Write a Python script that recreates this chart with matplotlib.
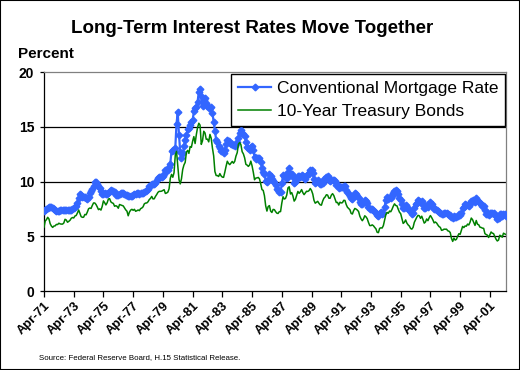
"""Long-term interest rates: conventional mortgage rate vs 10-year Treasury."""

import matplotlib
matplotlib.use("Agg")
import matplotlib.pyplot as plt
from matplotlib.patches import Rectangle

# monthly values, Apr 1971 - May 2002 (one row per calendar year)
mortgage_rate = [
    7.31, 7.43, 7.53, 7.60, 7.70, 7.69, 7.63, 7.55, 7.48,
    7.44, 7.32, 7.29, 7.29, 7.37, 7.37, 7.40, 7.40, 7.42, 7.43, 7.43, 7.44,
    7.44, 7.44, 7.46, 7.54, 7.65, 7.73, 8.05, 8.50, 8.82, 8.77, 8.58, 8.54,
    8.54, 8.46, 8.41, 8.58, 8.97, 9.09, 9.28, 9.59, 9.96, 9.98, 9.79, 9.62,
    9.43, 9.10, 8.89, 8.82, 8.91, 8.89, 8.89, 8.94, 9.13, 9.22, 9.15, 9.10,
    9.02, 8.81, 8.76, 8.73, 8.83, 8.92, 8.93, 8.96, 8.89, 8.80, 8.75, 8.66,
    8.72, 8.67, 8.69, 8.75, 8.83, 8.86, 8.94, 8.94, 8.90, 8.92, 8.92, 8.96,
    9.02, 9.15, 9.20, 9.36, 9.57, 9.71, 9.74, 9.78, 9.76, 9.86, 10.11, 10.35,
    10.39, 10.41, 10.43, 10.50, 10.69, 11.04, 11.09, 11.09, 11.30, 11.64, 12.83, 12.90,
    12.88, 13.04, 15.28, 16.32, 14.26, 12.71, 12.19, 12.56, 13.20, 13.79, 14.21, 14.79,
    14.90, 15.13, 15.40, 15.58, 16.40, 16.70, 16.83, 17.29, 18.16, 18.45, 17.83, 16.92,
    17.40, 17.60, 17.16, 16.89, 16.68, 16.70, 16.82, 16.27, 15.43, 14.61, 13.83, 13.62,
    13.25, 13.04, 12.80, 12.78, 12.63, 12.87, 13.42, 13.81, 13.73, 13.54, 13.44, 13.42,
    13.37, 13.23, 13.39, 13.65, 13.94, 14.42, 14.67, 14.47, 14.35, 14.13, 13.64, 13.18,
    13.08, 12.92, 13.17, 13.20, 12.91, 12.22, 12.03, 12.19, 12.19, 12.14, 11.78, 11.26,
    10.88, 10.71, 10.08, 9.94, 10.14, 10.68, 10.51, 10.20, 10.01, 9.98, 9.70, 9.32,
    9.20, 9.08, 9.04, 9.83, 10.60, 10.54, 10.28, 10.33, 10.89, 11.26, 10.65, 10.64,
    10.38, 9.89, 9.93, 10.20, 10.46, 10.46, 10.43, 10.60, 10.48, 10.30, 10.27, 10.61,
    10.73, 10.65, 11.03, 11.05, 10.77, 10.20, 9.88, 9.99, 10.13, 9.95, 9.77, 9.74,
    9.90, 10.20, 10.27, 10.37, 10.48, 10.16, 10.04, 10.10, 10.18, 10.18, 10.01, 9.67,
    9.64, 9.37, 9.50, 9.49, 9.47, 9.62, 9.58, 9.24, 9.01, 8.86, 8.71, 8.50,
    8.43, 8.76, 8.94, 8.85, 8.67, 8.51, 8.13, 7.98, 7.92, 8.09, 8.31, 8.22,
    8.02, 7.68, 7.50, 7.47, 7.47, 7.42, 7.21, 7.11, 6.92, 6.83, 7.16, 7.17,
    7.06, 7.15, 7.68, 8.32, 8.60, 8.40, 8.61, 8.51, 8.64, 8.93, 9.17, 9.20,
    9.15, 8.83, 8.46, 8.32, 7.96, 7.57, 7.61, 7.86, 7.64, 7.48, 7.38, 7.20,
    7.03, 7.08, 7.62, 7.93, 8.07, 8.32, 8.25, 8.00, 8.23, 7.92, 7.62, 7.60,
    7.82, 7.65, 7.90, 8.14, 7.94, 7.69, 7.50, 7.48, 7.43, 7.29, 7.21, 7.10,
    6.99, 7.04, 7.13, 7.14, 7.14, 7.00, 6.95, 6.92, 6.72, 6.71, 6.87, 6.72,
    6.79, 6.81, 7.04, 6.92, 7.15, 7.55, 7.63, 7.94, 7.82, 7.85, 7.74, 7.91,
    8.21, 8.33, 8.24, 8.15, 8.52, 8.29, 8.15, 8.03, 7.91, 7.80, 7.75, 7.38,
    7.03, 7.05, 6.95, 7.08, 7.15, 7.16, 7.13, 6.95, 6.82, 6.62, 6.66, 7.07,
    7.00, 6.89, 7.01, 6.99, 6.81,
]

treasury_10y = [
    5.83, 6.39, 6.52, 6.73, 6.58, 6.14, 5.93, 5.81, 5.93,
    5.95, 6.08, 6.07, 6.19, 6.13, 6.11, 6.11, 6.21, 6.55, 6.48, 6.28, 6.36,
    6.46, 6.64, 6.71, 6.67, 6.85, 6.90, 7.13, 7.40, 7.09, 6.79, 6.73, 6.74,
    6.99, 6.96, 7.21, 7.51, 7.58, 7.54, 7.81, 8.04, 8.04, 7.90, 7.68, 7.43,
    7.50, 7.39, 7.73, 8.23, 8.06, 7.86, 8.06, 8.40, 8.43, 8.14, 8.05, 8.00,
    7.74, 7.79, 7.73, 7.56, 7.90, 7.86, 7.83, 7.77, 7.59, 7.41, 7.29, 6.87,
    7.21, 7.39, 7.46, 7.37, 7.46, 7.28, 7.33, 7.40, 7.34, 7.52, 7.58, 7.69,
    7.96, 8.03, 8.04, 8.15, 8.35, 8.46, 8.64, 8.41, 8.42, 8.64, 8.81, 9.01,
    9.10, 9.10, 9.12, 9.18, 9.25, 8.91, 8.95, 9.03, 9.33, 10.30, 10.65, 10.39,
    10.80, 12.41, 12.75, 11.47, 10.18, 9.78, 10.25, 11.10, 11.51, 11.75, 12.68, 12.84,
    12.57, 13.19, 13.12, 13.68, 14.10, 13.47, 14.28, 14.94, 15.32, 15.15, 13.39, 13.72,
    14.59, 14.43, 13.86, 13.87, 13.62, 14.30, 13.95, 13.06, 12.34, 10.91, 10.55, 10.54,
    10.46, 10.72, 10.51, 10.40, 10.38, 10.85, 11.38, 11.85, 11.65, 11.54, 11.69, 11.83,
    11.67, 11.84, 12.32, 12.63, 13.41, 13.56, 13.36, 12.72, 12.52, 12.16, 11.57, 11.50,
    11.38, 11.51, 11.86, 11.43, 10.85, 10.16, 10.31, 10.33, 10.37, 10.24, 9.78, 9.26,
    9.19, 8.70, 7.78, 7.30, 7.71, 7.80, 7.30, 7.17, 7.45, 7.43, 7.25, 7.11,
    7.08, 7.25, 7.25, 8.02, 8.61, 8.40, 8.45, 8.76, 9.42, 9.52, 8.86, 8.99,
    8.67, 8.21, 8.37, 8.72, 9.09, 8.92, 9.06, 9.26, 8.98, 8.80, 8.96, 9.11,
    9.09, 9.17, 9.36, 9.18, 8.86, 8.28, 8.02, 8.11, 8.19, 8.01, 7.87, 7.84,
    8.21, 8.47, 8.59, 8.79, 8.76, 8.48, 8.47, 8.75, 8.89, 8.72, 8.39, 8.08,
    8.09, 7.85, 8.11, 8.04, 8.07, 8.28, 8.27, 7.90, 7.65, 7.53, 7.42, 7.09,
    7.03, 7.34, 7.54, 7.48, 7.39, 7.26, 6.84, 6.59, 6.42, 6.59, 6.87, 6.77,
    6.60, 6.26, 5.98, 5.97, 6.04, 5.96, 5.81, 5.68, 5.36, 5.33, 5.72, 5.77,
    5.75, 5.97, 6.48, 6.97, 7.18, 7.10, 7.30, 7.24, 7.46, 7.74, 7.96, 7.81,
    7.78, 7.47, 7.20, 7.06, 6.63, 6.17, 6.28, 6.49, 6.20, 6.04, 5.93, 5.71,
    5.65, 5.81, 6.27, 6.51, 6.74, 6.91, 6.87, 6.64, 6.83, 6.53, 6.20, 6.30,
    6.58, 6.42, 6.69, 6.89, 6.71, 6.49, 6.22, 6.30, 6.21, 6.03, 5.88, 5.81,
    5.54, 5.57, 5.65, 5.64, 5.65, 5.50, 5.46, 5.34, 4.81, 4.53, 4.83, 4.65,
    4.72, 5.00, 5.23, 5.18, 5.54, 5.90, 5.79, 5.94, 5.92, 6.11, 6.03, 6.28,
    6.66, 6.52, 6.26, 5.99, 6.44, 6.10, 6.05, 5.83, 5.80, 5.74, 5.72, 5.24,
    5.16, 5.10, 4.89, 5.14, 5.39, 5.28, 5.24, 4.97, 4.73, 4.57, 4.65, 5.09,
    5.04, 4.91, 5.28, 5.21, 5.16,
]

tick_labels = ["Apr-71", "Apr-73", "Apr-75", "Apr-77", "Apr-79", "Apr-81",
               "Apr-83", "Apr-85", "Apr-87", "Apr-89", "Apr-91", "Apr-93",
               "Apr-95", "Apr-97", "Apr-99", "Apr-01"]
y_ticks = [0, 5, 10, 15, 20]

BLUE = "#3366FF"
GREEN = "#008000"


def main():
    plt.rcParams["font.family"] = ["Liberation Sans", "DejaVu Sans"]

    fig = plt.figure(figsize=(5.2, 3.7), dpi=100)
    ax = fig.add_axes([0.0846, 0.2135, 0.973 - 0.0846, 0.8054 - 0.2135])

    x = list(range(len(mortgage_rate)))
    ax.plot(x, mortgage_rate, color=BLUE, lw=1.6, marker="D", ms=3.4,
            mec=BLUE, mfc=BLUE, label="Conventional Mortgage Rate", zorder=3)
    ax.plot(x, treasury_10y, color=GREEN, lw=1.1,
            label="10-Year Treasury Bonds", zorder=4)

    ax.set_xlim(0, len(mortgage_rate) - 1)
    ax.set_ylim(0, 20)
    ax.set_yticks(y_ticks)
    ax.set_yticklabels([str(v) for v in y_ticks], fontsize=10, fontweight="bold")
    for v in y_ticks[1:-1]:
        ax.axhline(v, color="black", lw=0.9, zorder=1)

    ax.set_xticks([24 * i for i in range(len(tick_labels))])
    ax.set_xticklabels(tick_labels, rotation=45, ha="right", va="top",
                       rotation_mode="anchor", fontsize=9.3, fontweight="bold")
    ax.tick_params(axis="x", direction="out", length=4, width=0.9, pad=2)
    ax.tick_params(axis="y", direction="out", length=3, width=0.9, pad=4)

    for side in ("top", "right"):
        ax.spines[side].set_color("#808080")
        ax.spines[side].set_linewidth(0.9)
    for side in ("left", "bottom"):
        ax.spines[side].set_color("black")
        ax.spines[side].set_linewidth(0.9)

    leg = ax.legend(loc="upper right", bbox_to_anchor=(0.998, 0.993),
                    fontsize=12.5, frameon=True, fancybox=False,
                    borderaxespad=0, handlelength=1.9, handletextpad=0.3,
                    borderpad=0.4, labelspacing=0.45, markerscale=1.0)
    leg.get_frame().set_edgecolor("black")
    leg.get_frame().set_linewidth(1.0)
    leg.get_frame().set_alpha(1)

    fig.text(0.485, 0.924, "Long-Term Interest Rates Move Together",
             ha="center", va="center", fontsize=13.5, fontweight="bold")
    fig.text(0.035, 0.855, "Percent", ha="left", va="center",
             fontsize=11, fontweight="bold")
    fig.text(0.075, 0.035, "Source: Federal Reserve Board, H.15 Statistical Release.",
             ha="left", va="center", fontsize=5.7)

    fig.patches.append(Rectangle((0, 0), 1, 1, transform=fig.transFigure,
                                 fill=False, edgecolor="black", lw=1.5))

    fig.savefig("out.png", dpi=100)


if __name__ == "__main__":
    main()
